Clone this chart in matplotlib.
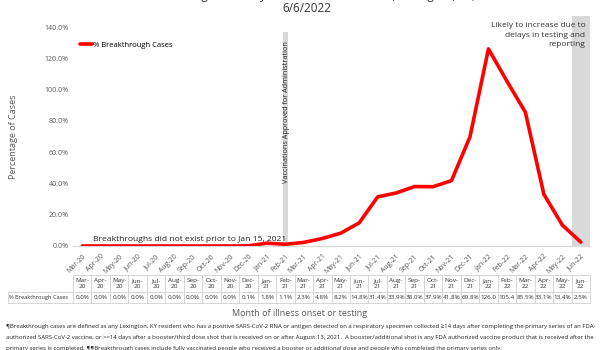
import numpy as np
import matplotlib.pyplot as plt
from matplotlib.transforms import blended_transform_factory

months = ['Mar-20', 'Apr-20', 'May-20', 'Jun-20', 'Jul-20', 'Aug-20', 'Sep-20',
          'Oct-20', 'Nov-20', 'Dec-20', 'Jan-21', 'Feb-21', 'Mar-21', 'Apr-21',
          'May-21', 'Jun-21', 'Jul-21', 'Aug-21', 'Sep-21', 'Oct-21', 'Nov-21',
          'Dec-21', 'Jan-22', 'Feb-22', 'Mar-22', 'Apr-22', 'May-22', 'Jun-22']
pct = [0.0, 0.0, 0.0, 0.0, 0.0, 0.0, 0.0, 0.0, 0.0, 0.1, 1.8, 1.1, 2.3, 4.8,
       8.2, 14.8, 31.4, 33.9, 38.0, 37.9, 41.8, 69.8, 126.0, 105.4, 85.5,
       33.1, 13.4, 2.5]
vacc_month = 'Feb-21'
lag_month = 'Jun-22'

GREY = '#595959'
plt.rcParams['font.family'] = ['Open Sans', 'DejaVu Sans']

fig = plt.figure(figsize=(6, 3.5), dpi=100)
ax = fig.add_axes([73 / 600, 1 - 246 / 350, 517 / 600, 219 / 350])

x = np.arange(len(months))
ax.set_xlim(-0.5, len(months) - 0.5)
ax.set_ylim(0, 140)

# shaded bands: vaccine approval and incomplete reporting
iv = months.index(vacc_month)
ax.bar(iv, 136.5, width=0.25, color='#d9d9d9', zorder=1)
il = months.index(lag_month)
ax.bar(il, 147, width=1.0, color='#d9d9d9', zorder=1, clip_on=False)

ax.plot(x, pct, color='#ff0000', lw=2.6, solid_joinstyle='round',
        solid_capstyle='round', zorder=3, label='% Breakthrough Cases')

ax.set_yticks(np.arange(0, 141, 20))
ax.set_yticklabels(['%.1f%%' % v for v in np.arange(0, 141, 20)])
ax.set_xticks(x)
ax.set_xticklabels(months, rotation=45, ha='right', rotation_mode='anchor')
ax.tick_params(axis='both', labelsize=5, colors=GREY, length=0, pad=3)
ax.tick_params(axis='x', pad=5)
for s in ['top', 'right', 'left']:
    ax.spines[s].set_visible(False)
ax.spines['bottom'].set_color('#d9d9d9')
ax.set_ylabel('Percentage of Cases', fontsize=6.5, color=GREY, labelpad=19)

ax.legend(loc='upper left', bbox_to_anchor=(0.0, 0.965), frameon=False,
          fontsize=5.5, handlelength=1.6, handletextpad=0.1)

ax.text(iv + 0.05, 131, 'Vaccinations Approved for Administration',
        rotation=90, ha='center', va='top', fontsize=5.2, color='#222222')
ax.text(0.6, 2, 'Breakthroughs did not exist prior to Jan 15, 2021',
        fontsize=6.1, color='#222222', va='bottom')
ax.text(il + 0.25, 143, 'Likely to increase due to\ndelays in testing and\nreporting',
        ha='right', va='top', fontsize=6, color='#333333', linespacing=1.45)

# data table under the axis
tr = blended_transform_factory(ax.transData, fig.transFigure)
def fy(px):
    return 1 - px / 350
line_kw = dict(color='#d0d0d0', lw=0.6, transform=tr, clip_on=False)
x_left = -0.5 - 65 / (517 / len(months))
ax.plot([-0.5, len(months) - 0.5], [fy(275), fy(275)], **line_kw)
ax.plot([x_left, len(months) - 0.5], [fy(292), fy(292)], **line_kw)
ax.plot([x_left, len(months) - 0.5], [fy(303), fy(303)], **line_kw)
ax.plot([x_left, x_left], [fy(292), fy(303)], **line_kw)
for i in range(len(months) + 1):
    ax.plot([i - 0.5, i - 0.5], [fy(275), fy(303)], **line_kw)
for i, (m, v) in enumerate(zip(months, pct)):
    ax.text(i, fy(283.5), m.replace('-', '-\n'), transform=tr, ha='center',
            va='center', fontsize=4.6, color='#333333', linespacing=1.2)
    lbl = '%.1f' % v if v >= 100 else '%.1f%%' % v
    ax.text(i, fy(297.5), lbl, transform=tr, ha='center', va='center',
            fontsize=4.5, color='#333333')
ax.text(x_left + 0.08, fy(297.5), '% Breakthrough Cases', transform=tr,
        ha='left', va='center', fontsize=4.1, color='#333333')

fig.text(0.5, 1 - 313 / 350, 'Month of illness onset or testing',
         ha='center', va='center', fontsize=6.5, color=GREY)

# title: top line runs off the top edge
fig.text(307 / 600, 1 + 4.5 / 350,
         'Breakthrough Cases by Month of Illness Onset, Lexington, KY,',
         ha='center', va='center', fontsize=8.5, color='#333333')
fig.text(307 / 600, 1 - 8 / 350, '6/6/2022',
         ha='center', va='center', fontsize=8.5, color='#333333')

foot = ('\u00b6Breakthrough cases are defined as any Lexington, KY resident who has a positive '
        'SARS-CoV-2 RNA or antigen detected on a respiratory specimen collected \u226514 days '
        'after completing the primary series of an FDA-\n'
        'authorized SARS-CoV-2 vaccine, or >=14 days after a booster/third dose shot that is '
        'received on or after August 13, 2021.  A booster/additional shot is any FDA authorized '
        'vaccine product that is received after the\n'
        'primary series is completed. \u00b6\u00b6Breakthrough cases include fully vaccinated '
        'people who received a booster or additional dose and people who completed the primary '
        'series only.')
fig.text(6 / 600, 1 - 324 / 350, foot, ha='left', va='top', fontsize=4.3,
         color='#222222', linespacing=2.5)

fig.savefig('out.png', dpi=100)
